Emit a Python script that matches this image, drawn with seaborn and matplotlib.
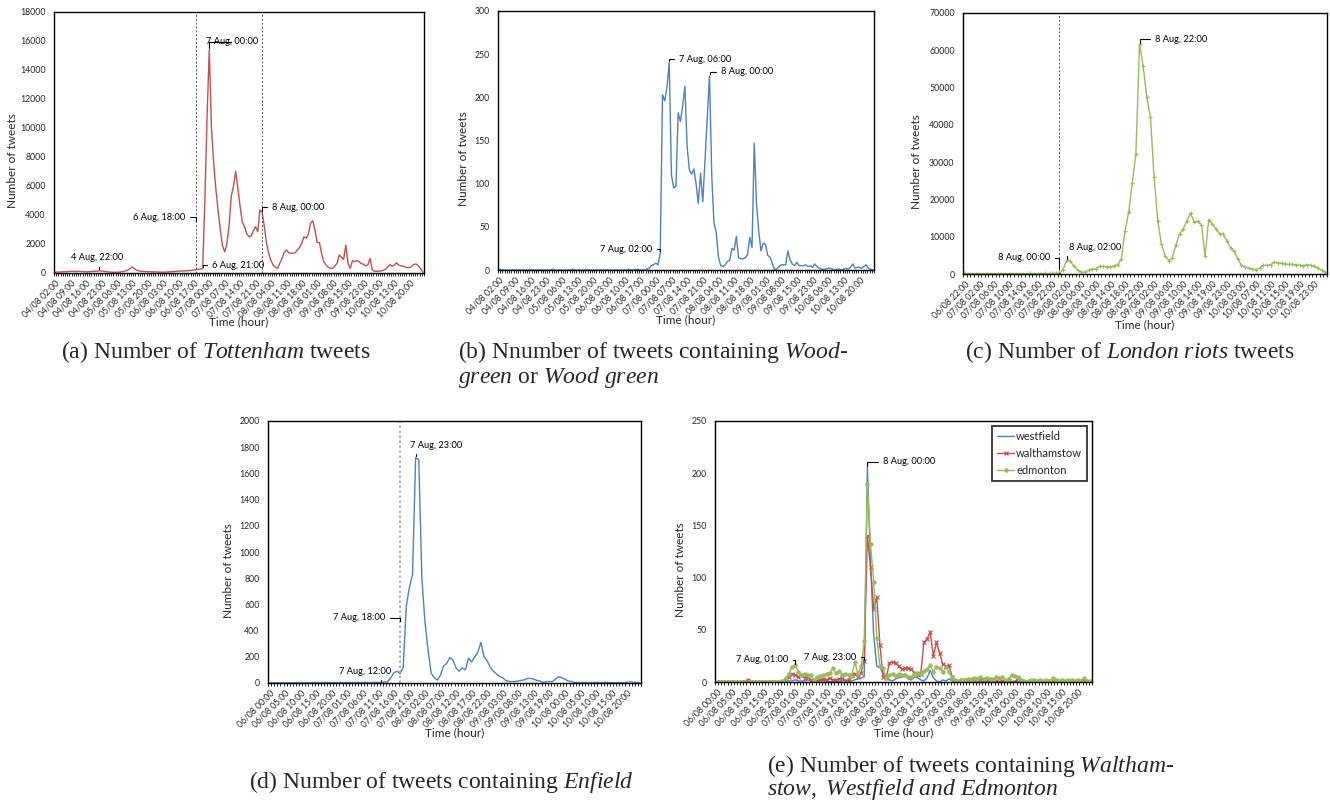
import numpy as np
import matplotlib
matplotlib.use("Agg")
import matplotlib.pyplot as plt
import seaborn as sns

# ---------------- data ----------------
labels_ab = ["04/08 02:00", "04/08 09:00", "04/08 16:00", "04/08 23:00", "05/08 06:00", "05/08 13:00",
             "05/08 20:00", "06/08 03:00", "06/08 10:00", "06/08 17:00", "07/08 00:00", "07/08 07:00",
             "07/08 14:00", "07/08 21:00", "08/08 04:00", "08/08 11:00", "08/08 18:00", "09/08 01:00",
             "09/08 08:00", "09/08 15:00", "09/08 23:00", "10/08 06:00", "10/08 13:00", "10/08 20:00"]
labels_c = ["06/08 22:00", "07/08 02:00", "07/08 06:00", "07/08 10:00", "07/08 14:00", "07/08 18:00",
            "07/08 22:00", "08/08 02:00", "08/08 06:00", "08/08 10:00", "08/08 14:00", "08/08 18:00",
            "08/08 22:00", "09/08 02:00", "09/08 06:00", "09/08 10:00", "09/08 14:00", "09/08 19:00",
            "09/08 23:00", "10/08 03:00", "10/08 07:00", "10/08 11:00", "10/08 15:00", "10/08 19:00",
            "10/08 23:00"]
labels_de = ["06/08 00:00", "06/08 05:00", "06/08 10:00", "06/08 15:00", "06/08 20:00", "07/08 01:00",
             "07/08 06:00", "07/08 11:00", "07/08 16:00", "07/08 21:00", "08/08 02:00", "08/08 07:00",
             "08/08 12:00", "08/08 17:00", "08/08 22:00", "09/08 03:00", "09/08 08:00", "09/08 13:00",
             "09/08 19:00", "10/08 00:00", "10/08 05:00", "10/08 10:00", "10/08 15:00", "10/08 20:00"]

tottenham = [60, 70, 60, 80, 90, 80, 100, 110, 120, 100,
             110, 120, 100, 90, 80, 90, 100, 110, 120, 130,
             150, 140, 120, 100, 80, 60, 50, 50, 50, 60,
             80, 100, 150, 200, 300, 420, 300, 200, 150, 120,
             110, 100, 90, 90, 80, 80, 70, 70, 60, 60,
             60, 70, 80, 90, 100, 120, 130, 140, 140, 150,
             160, 170, 180, 200, 230, 250, 280, 300, 5000, 10800,
             15400, 10000, 7600, 5800, 4300, 3000, 1900, 1450, 2000, 3300,
             5300, 6000, 7000, 5800, 4600, 3500, 3200, 2700, 2500, 2550,
             2900, 3200, 2850, 4350, 4200, 3200, 2050, 1350, 850, 550,
             400, 320, 660, 1000, 1400, 1590, 1400, 1360, 1360, 1400,
             1590, 1770, 2050, 2500, 2400, 2690, 3430, 3600, 2970, 2100,
             2100, 1350, 780, 550, 400, 320, 320, 480, 660, 1240,
             1080, 940, 1930, 660, 320, 850, 780, 850, 780, 660,
             600, 500, 550, 1000, 230, 115, 115, 140, 140, 180,
             250, 410, 590, 450, 550, 700, 550, 500, 480, 410,
             370, 370, 480, 600, 620, 480, 300, 50]

woodgreen = [1, 0, 0, 0, 0, 0, 0, 0, 0, 0,
             0, 0, 0, 0, 0, 0, 0, 0, 0, 0,
             0, 0, 0, 0, 1, 0, 0, 0, 0, 0,
             0, 0, 0, 1, 0, 0, 0, 0, 0, 0,
             0, 0, 0, 0, 0, 0, 0, 0, 0, 0,
             0, 0, 0, 0, 0, 0, 0, 0, 1, 0,
             0, 0, 1, 0, 0, 0, 1, 2, 5, 6,
             8, 6, 20, 203, 196, 212, 240, 110, 95, 97,
             182, 172, 190, 213, 143, 116, 111, 117, 100, 77,
             112, 79, 128, 176, 225, 110, 54, 44, 15, 5,
             4, 6, 10, 11, 25, 23, 39, 14, 13, 13,
             14, 18, 38, 26, 147, 77, 45, 22, 31, 30,
             17, 15, 8, 1, 1, 4, 6, 6, 6, 22,
             12, 7, 5, 9, 5, 5, 5, 6, 4, 5,
             3, 7, 4, 2, 1, 1, 1, 2, 2, 1,
             0, 1, 1, 0, 1, 2, 1, 3, 7, 2,
             3, 3, 2, 4, 6, 2, 1, 0]

london_riots = [150, 120, 100, 120, 100, 80, 100, 120, 100, 100,
                120, 100, 100, 120, 100, 100, 120, 100, 150, 120,
                100, 120, 150, 120, 150, 180, 200, 1200, 3650, 3400,
                2060, 1000, 450, 540, 1000, 1340, 1340, 2060, 2060, 1970,
                1880, 2240, 2500, 4020, 11440, 16540, 24400, 32270, 61680, 55700,
                47380, 42100, 25900, 14300, 8050, 4920, 3580, 4290, 7870, 10730,
                12070, 14300, 16360, 13950, 14120, 13230, 4740, 14570, 13410, 12070,
                10820, 10730, 8940, 6970, 6080, 4020, 2320, 1880, 1610, 1340,
                1160, 1610, 2320, 2320, 2500, 3220, 2950, 2860, 2680, 2590,
                2590, 2500, 2320, 2240, 2500, 2320, 2060, 1610, 980, 540]

enfield = [2, 1, 1, 2, 1, 1, 2, 1, 2, 2,
           1, 2, 3, 2, 2, 3, 2, 2, 3, 2,
           2, 3, 3, 4, 3, 3, 4, 3, 3, 4,
           3, 4, 3, 4, 5, 4, 5, 8, 10, 40,
           78, 90, 72, 120, 590, 730, 830, 1720, 1705, 800,
           465, 250, 75, 40, 23, 60, 130, 150, 195, 175,
           115, 90, 115, 100, 190, 160, 200, 235, 310, 200,
           170, 120, 90, 70, 50, 40, 20, 12, 10, 12,
           15, 20, 25, 35, 35, 30, 20, 15, 5, 10,
           12, 10, 30, 48, 40, 30, 15, 12, 5, 3,
           2, 4, 3, 2, 3, 5, 4, 3, 5, 4,
           3, 2, 3, 2, 3, 6, 8, 7, 4, 2]

westfield = [0, 0, 0, 0, 0, 0, 0, 0, 0, 0,
             0, 0, 0, 0, 0, 0, 0, 0, 0, 0,
             0, 0, 1, 1, 1, 2, 1, 1, 1, 2,
             1, 0, 1, 2, 1, 1, 0, 1, 1, 0,
             1, 2, 1, 1, 2, 3, 4, 5, 206, 115,
             45, 15, 14, 8, 5, 2, 1, 3, 4, 5,
             8, 3, 2, 5, 4, 2, 1, 4, 11, 4,
             1, 0, 2, 1, 3, 1, 0, 1, 0, 0,
             1, 0, 0, 1, 0, 0, 0, 1, 0, 0,
             0, 1, 0, 0, 0, 0, 1, 0, 0, 0,
             0, 0, 1, 0, 0, 0, 0, 0, 1, 0,
             0, 0, 0, 0, 0, 1, 0, 0, 0, 0]

walthamstow = [0, 0, 0, 0, 0, 0, 0, 0, 0, 0,
               2, 0, 0, 0, 0, 0, 0, 0, 0, 0,
               0, 1, 2, 5, 8, 7, 5, 7, 4, 5,
               2, 0, 1, 2, 3, 2, 4, 2, 2, 3,
               4, 1, 2, 7, 8, 5, 9, 20, 140, 110,
               70, 81, 35, 5, 4, 18, 19, 18, 15, 12,
               13, 13, 12, 9, 7, 8, 38, 41, 48, 25,
               38, 28, 17, 15, 16, 5, 1, 1, 2, 1,
               2, 3, 3, 1, 3, 2, 1, 2, 3, 1,
               0, 1, 0, 1, 0, 0, 4, 1, 0, 0,
               1, 0, 1, 1, 0, 0, 1, 2, 1, 0,
               0, 1, 0, 1, 0, 1, 0, 1, 0, 0]

edmonton = [0, 0, 0, 0, 0, 0, 0, 0, 0, 0,
            0, 0, 0, 0, 0, 0, 0, 0, 0, 0,
            0, 1, 4, 8, 14, 16, 10, 7, 8, 7,
            7, 2, 5, 6, 7, 8, 9, 13, 9, 11,
            7, 8, 7, 6, 19, 8, 15, 39, 190, 132,
            96, 42, 15, 13, 4, 7, 8, 6, 8, 7,
            7, 5, 5, 8, 9, 8, 11, 12, 16, 10,
            14, 13, 10, 14, 10, 4, 2, 1, 2, 2,
            3, 2, 4, 3, 5, 3, 4, 3, 2, 5,
            4, 5, 2, 3, 7, 6, 5, 2, 1, 1,
            2, 2, 1, 2, 1, 2, 1, 4, 2, 1,
            2, 1, 2, 2, 1, 2, 1, 4, 1, 1]

RED = "#C0504D"
BLUE = "#4F81BD"
GREEN = "#9BBB59"

# ---------------- style ----------------
sns.set_style("white")
plt.rcParams['font.family'] = ['Lato', 'DejaVu Sans']
plt.rcParams['mathtext.fontset'] = 'custom'
plt.rcParams['mathtext.rm'] = 'Liberation Serif'
plt.rcParams['mathtext.it'] = 'Liberation Serif:italic'
plt.rcParams['mathtext.bf'] = 'Liberation Serif:bold'

W, H = 1330, 806
fig = plt.figure(figsize=(W / 100, H / 100), dpi=100)
fig.patch.set_facecolor("white")


def rect(l, t, r, b):
    return [l / W, 1 - b / H, (r - l) / W, (b - t) / H]


def style_axis(ax, n, step, labels, ymax, ystep, ylab_x, xlab_y):
    ax.set_xlim(-0.5, n - 0.5)
    ax.set_ylim(0, ymax)
    ax.set_yticks(np.arange(0, ymax + 1, ystep))
    ax.set_yticklabels([str(v) for v in np.arange(0, ymax + 1, ystep)], fontsize=6.3)
    ax.set_xticks(np.arange(len(labels)) * step)
    ax.set_xticklabels(labels, rotation=45, ha='right', rotation_mode='anchor', fontsize=6.2)
    ax.set_xticks(np.arange(n + 1) - 0.5, minor=True)
    ax.tick_params(axis='x', which='major', length=0, pad=4)
    ax.tick_params(axis='x', which='minor', length=2.5, width=0.6, direction='out',
                   color='black', bottom=True)
    ax.tick_params(axis='y', which='major', length=0, pad=6)
    for s in ax.spines.values():
        s.set_visible(True)
        s.set_color('black')
        s.set_linewidth(1.0)
    ax.set_ylabel('Number of tweets', fontsize=8.5)
    ax.yaxis.set_label_coords(ylab_x, 0.43)
    ax.set_xlabel('Time (hour)', fontsize=8.5, va='top')
    ax.xaxis.set_label_coords(0.5, xlab_y)
    ax.set_facecolor('white')


def note(ax, text, xy, txt_px, ha='left'):
    ax.annotate(text, xy=xy, xycoords='data',
                xytext=(txt_px[0], H - txt_px[1]), textcoords='figure pixels',
                ha=ha, va='center', fontsize=6.7, color='black',
                arrowprops=dict(arrowstyle='-', color='black', lw=0.8,
                                shrinkA=1, shrinkB=1,
                                connectionstyle='angle,angleA=0,angleB=90,rad=0'))


# ---------------- (a) Tottenham ----------------
axA = fig.add_axes(rect(54, 12, 424, 273))
sns.lineplot(x=np.arange(len(tottenham)), y=tottenham, ax=axA, color=RED, linewidth=1.0, legend=False)
style_axis(axA, len(tottenham), 7, labels_ab, 18000, 2000, -0.097, -0.165)
axA.axvline(64, color='#555555', lw=0.7, ls=(0, (2, 2)))
axA.axvline(94, color='#555555', lw=0.7, ls=(0, (2, 2)))
note(axA, "7 Aug, 00:00", (70, tottenham[70]), (206, 42))
note(axA, "4 Aug, 22:00", (20, tottenham[20]), (71, 258))
note(axA, "6 Aug, 18:00", (64, 3500), (185, 217), ha='right')
note(axA, "6 Aug, 21:00", (67, tottenham[67]), (212, 265))
note(axA, "8 Aug, 00:00", (94, tottenham[94]), (272, 207))

# ---------------- (b) Wood green ----------------
axB = fig.add_axes(rect(498, 11, 874, 270))
sns.lineplot(x=np.arange(len(woodgreen)), y=woodgreen, ax=axB, color=BLUE, linewidth=1.0, legend=False)
style_axis(axB, len(woodgreen), 7, labels_ab, 300, 50, -0.076, -0.17)
note(axB, "7 Aug, 06:00", (76, woodgreen[76]), (679, 59))
note(axB, "8 Aug, 00:00", (94, woodgreen[94]), (721, 72))
note(axB, "7 Aug, 02:00", (72, woodgreen[72]), (652, 249), ha='right')

# ---------------- (c) London riots ----------------
axC = fig.add_axes(rect(963, 13, 1327, 274))
sns.lineplot(x=np.arange(len(london_riots)), y=london_riots, ax=axC, color=GREEN, linewidth=1.0,
             marker='+', markersize=3.5, markeredgewidth=0.8, markeredgecolor=GREEN, legend=False)
style_axis(axC, len(london_riots), 4, labels_c, 70000, 10000, -0.113, -0.172)
axC.axvline(26, color='#555555', lw=0.7, ls=(0, (2, 2)))
note(axC, "8 Aug, 22:00", (48, london_riots[48]), (1155, 39))
note(axC, "8 Aug, 00:00", (26, 1000), (1050, 258), ha='right')
note(axC, "8 Aug, 02:00", (28, london_riots[28]), (1069, 247))

# ---------------- (d) Enfield ----------------
axD = fig.add_axes(rect(268, 421, 641, 683))
sns.lineplot(x=np.arange(len(enfield)), y=enfield, ax=axD, color=BLUE, linewidth=1.0, legend=False)
style_axis(axD, len(enfield), 5, labels_de, 2000, 200, -0.09, -0.168)
axD.axvline(42, color='#a6a6a6', lw=1.2, ls=(0, (1.5, 1.5)))
note(axD, "7 Aug, 23:00", (47, enfield[47]), (410, 445))
note(axD, "7 Aug, 18:00", (42, 460), (385, 618), ha='right')
note(axD, "7 Aug, 12:00", (36, enfield[36]), (339, 671))

# ---------------- (e) Walthamstow, Westfield, Edmonton ----------------
axE = fig.add_axes(rect(715, 421, 1092, 682))
xe = np.arange(len(westfield))
sns.lineplot(x=xe, y=westfield, ax=axE, color=BLUE, linewidth=1.0, label="westfield")
sns.lineplot(x=xe, y=walthamstow, ax=axE, color=RED, linewidth=1.0, marker='x',
             markersize=3.2, markeredgewidth=0.8, markeredgecolor=RED, label="walthamstow")
sns.lineplot(x=xe, y=edmonton, ax=axE, color=GREEN, linewidth=1.0, marker='o',
             markersize=2.6, markeredgewidth=0.5, markeredgecolor=GREEN, label="edmonton")
style_axis(axE, len(westfield), 5, labels_de, 250, 50, -0.0756, -0.172)
leg = axE.legend(loc='upper right', bbox_to_anchor=(0.987, 0.981), frameon=True, fancybox=False,
                 edgecolor='black', fontsize=8, handlelength=1.5, borderpad=0.45,
                 labelspacing=0.55, handletextpad=0.2, borderaxespad=0)
leg.get_frame().set_linewidth(1.3)
note(axE, "8 Aug, 00:00", (48, westfield[48]), (883, 462))
note(axE, "7 Aug, 01:00", (25, edmonton[25]), (736, 660))
note(axE, "7 Aug, 23:00", (47, walthamstow[47]), (804, 657))

# ---------------- captions ----------------
cap = dict(fontsize=17, family='Liberation Serif', va='center', zorder=10)
fig.text(216 / W, 1 - 352 / H, r"(a) Number of $\mathit{Tottenham}$ tweets", ha='center', **cap)
fig.text(458 / W, 1 - 352 / H, r"(b) Nnumber of tweets containing $\mathit{Wood}$-", ha='left', **cap)
fig.text(458 / W, 1 - 377 / H, r"$\mathit{green}$ or $\mathit{Wood\ green}$", ha='left', **cap)
fig.text(1130 / W, 1 - 352 / H, r"(c) Number of $\mathit{London\ riots}$ tweets", ha='center', **cap)
fig.text(441 / W, 1 - 782 / H, r"(d) Number of tweets containing $\mathit{Enfield}$", ha='center', **cap)
fig.text(767 / W, 1 - 766 / H, r"(e) Number of tweets containing $\mathit{Waltham}$-", ha='left', **cap)
fig.text(767 / W, 1 - 790 / H, r"$\mathit{stow,\ Westfield\ and\ Edmonton}$", ha='left', **cap)

fig.savefig("out.png", dpi=100, facecolor='white')
